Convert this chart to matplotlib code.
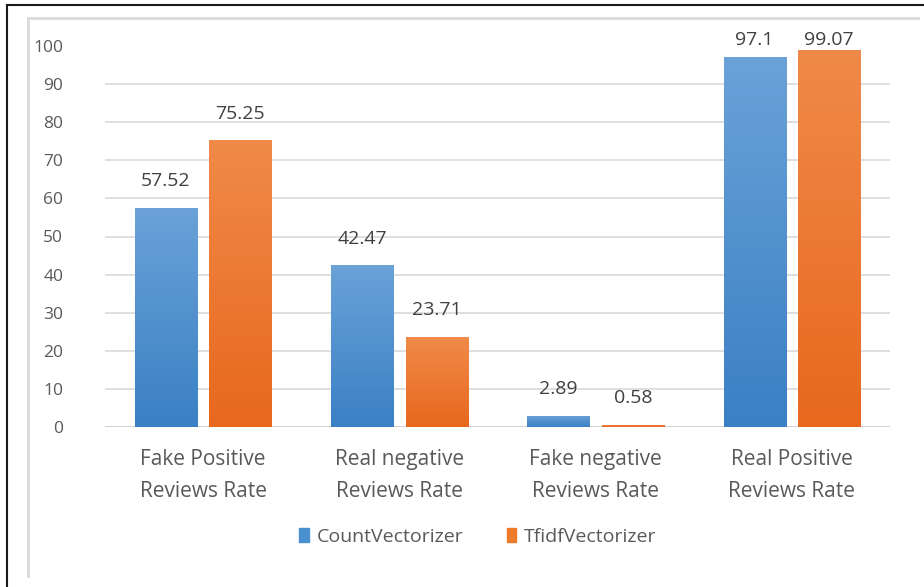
import numpy as np
import matplotlib
matplotlib.use("Agg")
import matplotlib.pyplot as plt
from matplotlib.lines import Line2D
from matplotlib.patches import Patch
from matplotlib.colors import LinearSegmentedColormap

categories = ["Fake Positive\nReviews Rate", "Real negative\nReviews Rate",
              "Fake negative\nReviews Rate", "Real Positive\nReviews Rate"]
series_names = ["CountVectorizer", "TfidfVectorizer"]
count_vals = [57.52, 42.47, 2.89, 97.1]
tfidf_vals = [75.25, 23.71, 0.58, 99.07]
count_labels = ["57.52", "42.47", "2.89", "97.1"]
tfidf_labels = ["75.25", "23.71", "0.58", "99.07"]
yticks = [0, 10, 20, 30, 40, 50, 60, 70, 80, 90, 100]

plt.rcParams['font.family'] = ['Open Sans', 'DejaVu Sans']
txt = "#595959"

fig = plt.figure(figsize=(9.24, 5.87), dpi=100)
ax = fig.add_axes([105/924, 1-427/587, (890-105)/924, (427-46)/587])

x = np.arange(len(categories))
w = 0.316
off = 0.19
blue_cmap = LinearSegmentedColormap.from_list("b", ["#3A80C4", "#6AA2D8"])
orange_cmap = LinearSegmentedColormap.from_list("o", ["#E8681E", "#F08A48"])
grad = np.linspace(0, 1, 256).reshape(-1, 1)

for vals, labels, d, cmap, col in [(count_vals, count_labels, -off, blue_cmap, "#4A8FD0"),
                                    (tfidf_vals, tfidf_labels, off, orange_cmap, "#EE7A2C")]:
    bars = ax.bar(x + d, vals, width=w, color=col, zorder=2)
    for b, lab in zip(bars, labels):
        x0, y0 = b.get_x(), b.get_y()
        h = b.get_height()
        im = ax.imshow(grad, cmap=cmap, origin="lower", aspect="auto",
                       extent=[x0, x0 + b.get_width(), y0, y0 + h], zorder=3)
        im.set_clip_path(b)
        ly = min(h + 7.0, 101.6)
        ax.text(x0 + b.get_width()/2, ly, lab, ha="center", va="center",
                fontsize=14, color="#404040", clip_on=False)

ax.set_xlim(-0.5, 3.5)
ax.set_ylim(0, 100)
ax.set_yticks(yticks)
ax.set_yticklabels([str(t) for t in yticks], fontsize=12.5, color=txt)
ax.set_xticks(x)
ax.set_xticklabels(categories, fontsize=15, color=txt, linespacing=1.65)
ax.tick_params(axis="both", length=0)
ax.tick_params(axis="y", pad=30)
ax.tick_params(axis="x", pad=16)
ax.yaxis.grid(True, color="#D9D9D9", linewidth=1.2, zorder=0)
ax.set_axisbelow(True)
ax.yaxis.get_gridlines()[-1].set_visible(False)
for s in ax.spines.values():
    s.set_visible(False)
ax.axhline(0, color="#D0D0D0", linewidth=1.2, zorder=1)

handles = [Patch(color="#4A8FD0"), Patch(color="#EE7A2C")]
fig.legend(handles, series_names, loc="center", bbox_to_anchor=(478/924, 1-537/587),
           ncol=2, frameon=False, fontsize=14, handlelength=0.5, handleheight=0.7,
           columnspacing=2.2, handletextpad=0.4, labelcolor=txt)

# outer frame and chart-area border
fig.add_artist(Line2D([7/924, 1], [1-5/587, 1-5/587], color="#1a1a1a", lw=1.5))
fig.add_artist(Line2D([7/924, 7/924], [0, 1-5/587], color="#1a1a1a", lw=1.5))
fig.add_artist(Line2D([28/924, 918/924], [1-18/587, 1-18/587], color="#DADADA", lw=2))
fig.add_artist(Line2D([28/924, 28/924], [1-576/587, 1-18/587], color="#DADADA", lw=2))

fig.savefig("out.png", dpi=100)
